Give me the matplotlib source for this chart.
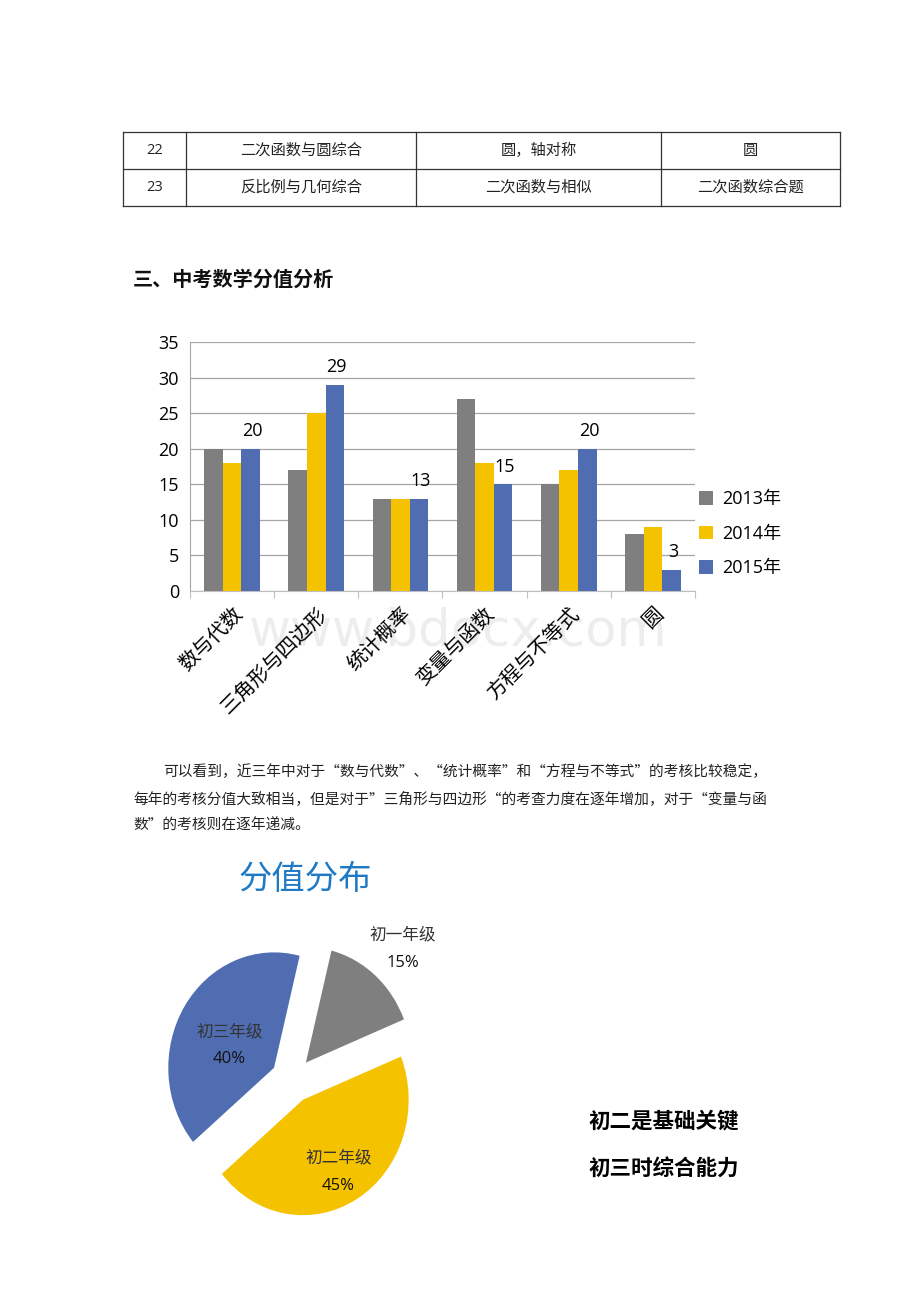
import numpy as np
import matplotlib
matplotlib.use("Agg")
import matplotlib.pyplot as plt

plt.rcParams['font.family'] = ['Noto Sans CJK SC', 'DejaVu Sans']

# table rows at the top of the page
table_rows = [
    ["22", "二次函数与圆综合", "圆，轴对称", "圆"],
    ["23", "反比例与几何综合", "二次函数与相似", "二次函数综合题"],
]

# bar chart data
categories = ["数与代数", "三角形与四边形", "统计概率", "变量与函数", "方程与不等式", "圆"]
years = ["2013年", "2014年", "2015年"]
v2013 = [20, 17, 13, 27, 15, 8]
v2014 = [18, 25, 13, 18, 17, 9]
v2015 = [20, 29, 13, 15, 20, 3]
bar_colors = ["#7f7f7f", "#f5c200", "#506db2"]

# pie data
pie_labels = ["初一年级", "初二年级", "初三年级"]
pie_values = [15, 45, 40]
pie_colors = ["#7f7f7f", "#f5c200", "#506db2"]

W, H = 920, 1302
fig = plt.figure(figsize=(W / 100, H / 100), dpi=100)

# page axes in pixel coordinates
bg = fig.add_axes([0, 0, 1, 1])
bg.set_xlim(0, W)
bg.set_ylim(H, 0)
bg.axis("off")

# table
col_x = [123, 186, 416, 661, 840]
row_y = [132, 169, 206]
for y in row_y:
    bg.plot([col_x[0], col_x[-1]], [y, y], color="#333333", lw=0.9)
for x in col_x:
    bg.plot([x, x], [row_y[0], row_y[-1]], color="#333333", lw=0.9)
for r, row in enumerate(table_rows):
    yc = (row_y[r] + row_y[r + 1]) / 2
    for c, txt in enumerate(row):
        xc = (col_x[c] + col_x[c + 1]) / 2
        if c == 0:
            bg.text(xc, yc, txt, ha="center", va="center", fontsize=10.5,
                    color="#222222", family=["Open Sans", "DejaVu Sans"])
        else:
            bg.text(xc, yc, txt, ha="center", va="center", fontsize=11, color="#222222")

bg.text(133, 279, "三、中考数学分值分析", fontsize=14.5, fontweight="bold",
        ha="left", va="center", color="#111111")

para = [
    (163, 772, "可以看到，近三年中对于“数与代数”、“统计概率”和“方程与不等式”的考核比较稳定，"),
    (133, 799, "每年的考核分值大致相当，但是对于”三角形与四边形“的考查力度在逐年增加，对于“变量与函"),
    (133, 826, "数”的考核则在逐年递减。"),
]
for x, y, t in para:
    bg.text(x, y, t, fontsize=10.6, ha="left", va="center", color="#222222")

bg.text(305, 880, "分值分布", fontsize=24, color="#1f7ac6", ha="center", va="center")
bg.text(588, 1121, "初二是基础关键", fontsize=15.5, fontweight="bold", ha="left", va="center")
bg.text(588, 1168, "初三时综合能力", fontsize=15.5, fontweight="bold", ha="left", va="center")

# watermark
bg.text(458, 632, "www.bdocx.com", fontsize=37, color="#000000", alpha=0.07,
        ha="center", va="center", family="DejaVu Sans", zorder=10)

# bar chart
left, right, top, bottom = 190, 695, 342, 591
ax = fig.add_axes([left / W, 1 - bottom / H, (right - left) / W, (bottom - top) / H])
x = np.arange(len(categories))
bw = 0.22
for i, (vals, col) in enumerate(zip([v2013, v2014, v2015], bar_colors)):
    ax.bar(x + (i - 1) * bw, vals, bw, color=col, label=years[i], zorder=3)
for xi, v in zip(x, v2015):
    ax.text(xi + bw + 0.02, v + 1.2, str(v), fontsize=13, ha="center", va="bottom",
            family=["Open Sans", "DejaVu Sans"])
ax.set_ylim(0, 35)
ax.set_xlim(-0.5, len(categories) - 0.5)
ax.set_yticks(range(0, 36, 5))
ax.yaxis.grid(True, color="#a6a6a6", lw=0.9, zorder=0)
ax.tick_params(axis="y", length=0, labelsize=13, pad=8)
for lab in ax.get_yticklabels():
    lab.set_family(["Open Sans", "DejaVu Sans"])
ax.set_xticks(np.arange(-0.5, len(categories)), minor=False)
ax.set_xticklabels([])
ax.tick_params(axis="x", length=5, color="#bfbfbf", direction="out")
ax.set_xticks(x, minor=True)
ax.set_xticklabels(categories, minor=True, rotation=45, ha="right",
                   rotation_mode="anchor", fontsize=14.5)
ax.tick_params(axis="x", which="minor", length=0, pad=9)
for s in ["top", "right"]:
    ax.spines[s].set_visible(False)
ax.spines["left"].set_color("#a6a6a6")
ax.spines["bottom"].set_color("#bfbfbf")
ax.legend(loc="center left", bbox_to_anchor=(0.975, 0.23), frameon=False,
          handlelength=0.8, handleheight=0.8, labelspacing=0.9, handletextpad=0.5,
          prop={"family": ["Open Sans", "Noto Sans CJK SC"], "size": 13})

# pie chart (slightly taller than wide, as in the reference)
cx, cy, pw, ph = 292, 1080, 275, 300
pax = fig.add_axes([(cx - pw / 2) / W, 1 - (cy + ph / 2) / H, pw / W, ph / H])
explode = [0.2, 0.2, 0.2]
wedges, _ = pax.pie(pie_values, colors=pie_colors, startangle=76, counterclock=False,
                    explode=explode, radius=1.0)
pax.set_aspect("auto")
pax.set_xlim(-1.3, 1.3)
pax.set_ylim(-1.3, 1.3)
label_dist = [1.6, 0.85, 0.7]
for w, lab, val, d in zip(wedges, pie_labels, pie_values, label_dist):
    ang = np.deg2rad((w.theta1 + w.theta2) / 2)
    px, py = d * np.cos(ang), d * np.sin(ang) - 0.07
    pax.text(px, py + 0.12, lab, ha="center", va="center", fontsize=12, color="#333333")
    pax.text(px, py - 0.12, f"{val}%", ha="center", va="center", fontsize=12,
             color="#111111", family=["Open Sans", "DejaVu Sans"])

fig.savefig("out.png", dpi=100)
